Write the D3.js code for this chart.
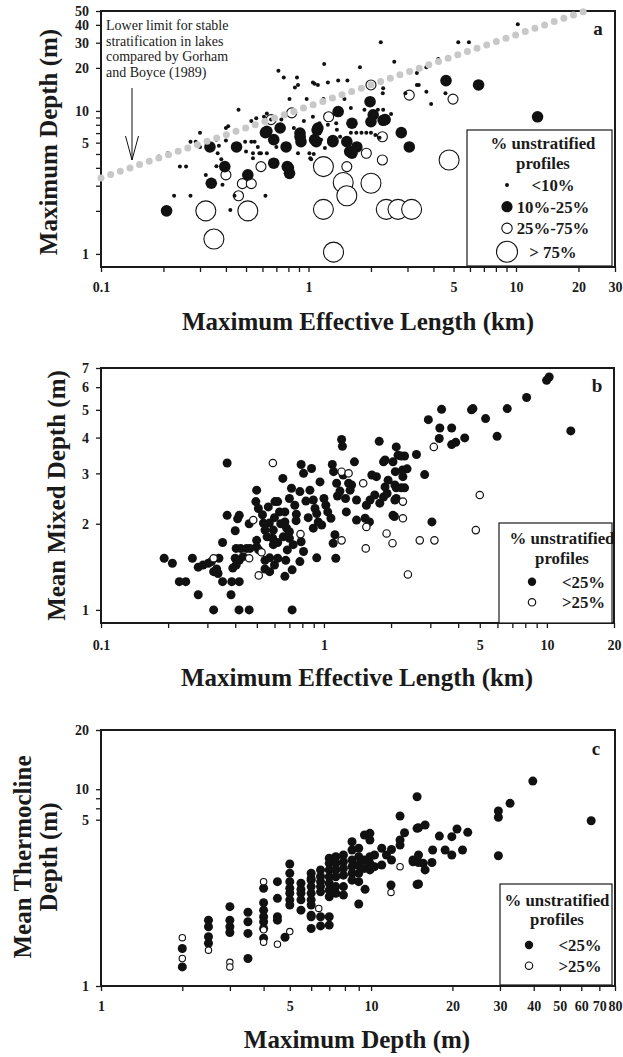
<!DOCTYPE html>
<html>
<head>
<meta charset="utf-8">
<script src="https://cdn.jsdelivr.net/npm/d3@7"></script>
<style>
  body { margin: 0; background: #fff; }
  svg { display: block; }
  text { font-family: "Liberation Serif", "Times New Roman", serif; fill: #1a1a1a; }
</style>
</head>
<body>
<div id="chart"></div>
<script>
// ---- panel a : max effective length (km) vs max depth (m), by % unstratified profiles
const aUnder10 = [[10.2,40.4],[2.23,30.2],[5.27,30.2],[5.93,30.2],[1.19,21.3],[0.716,19.1],[0.76,17.1],[0.88,17.1],
  [0.86,14.6],[0.89,15.2],[1.05,15.8],[1.11,15.2],[1.24,15.8],[1.39,16.3],[1.54,16.3],[1.77,20.2],[2.59,22.1],
  [4.22,23.1],[3.7,20.2],[3.33,18.4],[0.81,12.1],[0.98,12.1],[1.18,12.1],[1.49,12.1],[0.46,10.2],[0.63,9.6],
  [0.61,9.1],[0.56,8.9],[0.53,8.5],[0.66,8.7],[0.74,8.7],[0.76,9.2],[0.4,7.6],[0.41,7.8],[0.3,7.05],[0.27,6.1],
  [0.286,6.1],[0.4,6.2],[0.37,5.7],[0.3,5.6],[0.36,6.3],[0.5,5.2],[0.54,5.06],[0.58,5.06],[0.59,5.06],[0.365,5.06],
  [0.54,4.67],[0.495,6.1],[0.53,6.1],[0.55,6.1],[0.57,5.6],[0.63,5.06],[0.89,5.06],[1.01,5.06],[0.19,4.8],[0.21,5.06],
  [0.24,4.08],[0.257,4.08],[0.38,4.6],[0.32,3.57],[0.36,4.1],[0.385,3.05],[0.225,2.55],[0.27,2.55],[0.42,2.03],
  [0.62,2.55],[0.44,2.55],[1.02,4.67],[1.06,5.0],[2.28,13.3],[3.33,15.2],[3.4,15.2],[3.7,13.6],[3.9,11.2],[4.57,13.3],
  [2.93,13.3],[2.16,10.2],[2.29,10.2],[1.86,10.2],[1.35,9.6],[2.29,14.4],[1.05,9.1],[1.13,8.2],[1.24,8.0],[1.36,8.2],
  [1.37,7.4],[1.42,6.6],[1.9,7.05],[2.0,7.05],[1.03,4.6],[1.07,15.5],[1.6,7.05],[1.7,7.05],[1.8,7.05],[2.1,6.8],
  [2.2,6.5],[1.15,6.3],[1.2,5.5],[0.95,6.6],[0.7,5.6],[0.68,6.6],[0.85,7.6],[0.95,8.5],[2.5,9.5],[1.6,10.5]];
const a10to25 = [[0.207,2.0],[0.335,5.6],[0.45,5.6],[0.395,4.08],[0.34,3.12],[0.51,3.57],[0.62,7.05],[0.73,7.6],
  [0.68,6.3],[0.78,5.6],[0.68,4.31],[0.79,4.08],[0.81,3.66],[0.91,7.0],[0.92,6.1],[1.1,7.35],[1.09,6.1],[1.07,6.3],
  [1.31,6.1],[1.53,6.1],[1.58,5.2],[1.71,5.6],[1.62,5.06],[1.11,7.6],[1.39,9.9],[1.62,8.2],[1.98,11.6],[2.05,9.4],
  [2.29,8.6],[2.0,8.4],[2.34,8.7],[2.8,7.05],[3.06,5.6],[4.6,16.3],[6.6,15.2],[12.7,9.1],[0.63,7.2],[0.8,4.0],
  [0.91,6.6],[1.31,6.2]];
const a25to75 = [[0.4,3.57],[0.48,3.1],[0.53,3.1],[0.46,2.55],[0.59,4.08],[0.66,8.7],[0.83,9.7],[1.25,9.1],
  [3.06,12.9],[4.97,12.1],[2.27,6.6],[1.9,5.06],[2.27,4.54],[1.53,4.08],[2.0,15.2]];
const aOver75 = [[0.32,2.0],[0.51,2.0],[0.35,1.27],[1.18,4.08],[1.47,3.16],[1.53,2.55],[2.0,3.12],[1.18,2.05],
  [2.37,2.05],[2.7,2.05],[3.14,2.05],[1.32,1.03],[4.76,4.54]];
const aLimitLine = [[0.1,3.4],[21.5,50]];   // Gorham & Boyce (1989) lower limit
const aLegend = ["<10%", "10%-25%", "25%-75%", "> 75%"];

// ---- panel b : max effective length (km) vs mean mixed depth (m)
const bUnder25 = [[0.32,1.0],[0.416,1.0],[0.462,1.0],[0.72,1.0],[0.273,1.13],[0.383,1.13],[0.2245,1.255],[0.24,1.255],
  [0.351,1.255],[0.386,1.255],[0.417,1.255],[0.668,1.31],[0.72,1.38],[0.192,1.515],[0.209,1.455],[0.257,1.515],
  [0.273,1.41],[0.287,1.435],[0.303,1.455],[0.313,1.475],[0.338,1.515],[0.32,1.36],[0.335,1.34],[0.33,1.39],
  [0.351,1.72],[0.368,2.14],[0.417,2.14],[0.41,2.08],[0.368,3.26],[0.4,1.89],[0.404,1.64],[0.423,1.64],[0.45,1.64],
  [0.466,1.64],[0.4,1.515],[0.417,1.49],[0.434,1.535],[0.39,1.4],[0.404,1.435],[0.462,2.0],[0.499,2.62],[0.495,2.39],
  [0.508,2.26],[0.499,1.75],[0.499,1.66],[0.51,1.62],[0.535,2.01],[0.544,1.9],[0.569,2.01],[0.556,1.8],[0.593,1.9],
  [0.589,1.78],[0.593,1.69],[0.544,1.49],[0.571,1.52],[0.544,1.39],[0.571,1.36],[0.62,1.515],[0.6,1.435],[0.563,2.29],
  [0.603,2.39],[0.62,2.39],[0.632,2.2],[0.668,2.2],[0.654,2.88],[0.668,2.03],[0.68,1.93],[0.657,1.8],[0.7,1.875],
  [0.7,1.78],[0.728,1.69],[0.685,1.62],[0.674,1.49],[0.715,2.66],[0.74,2.32],[0.752,2.16],[0.78,2.59],[0.79,1.73],
  [0.81,1.6],[0.78,1.475],[0.79,3.22],[0.81,3.0],[0.88,3.12],[0.865,2.62],[0.896,2.42],[0.912,2.26],[0.928,2.17],
  [0.96,2.8],[0.943,2.03],[0.896,1.93],[0.977,1.98],[0.928,1.52],[1.0,2.45],[1.02,2.32],[1.04,2.2],[1.075,2.09],
  [1.09,3.22],[1.105,3.04],[1.14,2.77],[1.22,2.96],[1.2,3.94],[1.21,3.73],[1.12,1.83],[1.1,1.71],[1.13,1.515],
  [1.29,2.77],[1.33,2.73],[1.31,2.62],[1.26,2.2],[1.4,2.42],[1.37,3.29],[1.4,2.06],[1.53,2.09],[1.6,2.03],[1.55,2.32],
  [1.61,2.42],[1.69,2.52],[1.78,2.36],[1.85,2.48],[1.92,2.55],[1.88,2.69],[1.94,2.84],[1.72,2.92],[1.64,2.96],
  [1.77,3.88],[1.85,3.29],[1.88,3.34],[2.04,3.29],[2.04,2.14],[2.11,3.71],[2.15,3.47],[2.09,3.04],[2.08,2.73],
  [2.11,2.45],[2.22,3.45],[2.3,3.45],[2.25,3.08],[2.36,3.11],[2.26,2.92],[2.6,3.49],[2.83,2.97],[2.11,2.67],[2.22,2.67],
  [2.3,2.67],[2.08,2.42],[2.07,2.12],[3.05,2.03],[2.94,4.62],[3.37,5.02],[3.31,4.32],[3.74,4.32],[3.29,3.97],
  [3.74,3.78],[3.9,3.85],[4.28,3.99],[4.59,5.0],[4.66,5.05],[5.31,4.66],[5.98,4.04],[6.64,5.05],[8.11,5.52],
  [9.97,6.34],[10.24,6.51],[12.8,4.22],[0.6,2.1],[0.64,2.0],[0.75,2.05],[0.83,2.4],[0.85,2.1],[0.62,1.72],[0.53,2.15],
  [0.7,2.45],[1.15,2.5],[1.18,2.6],[1.25,2.45]];
const bOver25 = [[0.32,1.515],[0.462,1.515],[0.482,2.06],[0.525,1.59],[0.51,1.32],[0.785,1.84],[1.2,3.04],[1.29,3.0],
  [1.2,1.75],[1.5,2.77],[1.55,1.95],[1.54,1.64],[1.91,1.85],[2.03,1.71],[2.26,2.39],[2.26,2.09],[2.69,1.75],
  [3.13,1.75],[2.38,1.33],[4.8,1.9],[5.0,2.52],[3.11,3.71],[0.59,3.26]];

// ---- panel c : max depth (m) vs mean thermocline depth (m)
const cUnder25 = [[2,1.55],[2,1.25],[2.5,2.16],[2.5,2.0],[2.5,1.78],[2.5,1.65],[3,2.53],[3,2.16],[3,2.0],[3,1.87],
  [3.5,2.37],[3.5,2.12],[3.5,1.85],[3.5,1.38],[4,3.14],[4,2.65],[4,2.43],[4,2.25],[4,2.12],[4,1.96],[4,1.75],
  [4.5,3.39],[4.5,2.79],[4.5,2.25],[4.5,2.16],[4.8,1.77],[5,4.17],[5,3.74],[5,3.39],[5,3.14],[5,2.96],[5,2.74],[5,2.58],
  [5.5,3.33],[5.5,2.96],[5.5,2.74],[5.5,2.43],[5.5,3.1],[6,3.74],[6,3.45],[6,3.2],[6,2.96],[6,2.74],[6,2.58],[6,2.25],
  [6,1.96],[6,3.52],[6,2.29],[6.5,3.89],[6.5,3.39],[6.5,3.01],[6.5,2.25],[6.5,2.02],[6.5,3.6],[6.5,3.2],[7,4.46],
  [7,4.2],[7,3.89],[7,3.59],[7,3.33],[7,3.07],[7,2.84],[7,2.25],[7,2.04],[7.4,4.54],[7.4,4.2],[7.4,3.89],[7.4,3.59],
  [7.4,3.2],[7.4,2.96],[7.9,4.63],[7.9,4.28],[7.9,3.96],[7.9,3.66],[7.9,3.2],[7.9,2.9],[8.5,5.41],[8.5,4.91],
  [8.5,4.37],[8.5,4.04],[8.5,3.74],[8.5,3.45],[9,5.01],[9,4.54],[9,4.12],[9,3.74],[9,3.39],[9,2.61],[9.45,5.85],
  [9.45,4.37],[9.45,3.96],[9.5,3.1],[9.9,5.97],[9.9,5.52],[9.9,4.54],[9.9,4.2],[9.9,3.89],[10.3,4.63],[10.3,4.04],
  [10.95,5.01],[10.95,4.12],[11.4,4.63],[11.9,4.94],[11.9,4.37],[11.85,3.26],[12.8,7.31],[12.8,5.52],[12.8,5.2],
  [13.3,6.01],[14.8,9.16],[14.8,6.33],[14.3,4.37],[14.8,3.28],[14.98,6.37],[15.85,6.58],[17.9,5.78],[19.9,5.74],
  [20.8,6.28],[22.8,6.04],[16.9,4.91],[18.8,4.91],[19.9,4.63],[21.8,4.91],[14.98,4.63],[14.3,4.28],[14.98,4.24],
  [15.6,4.2],[15.85,3.89],[16.8,4.24],[14.98,3.3],[29.6,7.75],[29.6,7.2],[32.7,8.48],[29.6,4.59],[39.7,11.0],[65.3,6.92]];
const cOver25 = [[2,1.76],[2,1.38],[2.5,1.52],[3,1.32],[3,1.25],[4,3.39],[4,1.93],[4,1.67],[4.5,1.63],[5,1.89],
  [6.4,2.48],[11.85,2.99],[12.8,4.04]];
const bcLegend = ["<25%", ">25%"];

// ---- tick values and labels (label text listed beside the tick it sits on, as in the original figure)
const xTicksA = [0.1,0.2,0.3,0.4,0.5,0.6,0.7,0.8,0.9,1,2,3,4,5,6,7,8,9,10,20,30];
const xLabelsA = [0.1,1,5,10,20,30];
const xLabelTextA = ["0.1","1","5","10","20","30"];
const yTicksA = [1,2,3,4,5,6,7,8,9,10,20,30,40,50];
const yLabelsA = [1,6,10,20,30,40,50];
const yLabelTextA = ["1","5","10","20","30","40","50"];
const xTicksB = [0.1,0.2,0.3,0.4,0.5,0.6,0.7,0.8,0.9,1,2,3,4,5,6,7,8,9,10,20];
const xLabelsB = [0.1,1,5,10,20];
const xLabelTextB = ["0.1","1","5","10","20"];
const yTicksB = [1,2,3,4,5,6,7];
const yLabelsB = [1,2,3,4,5,6,7];
const yLabelTextB = ["1","2","3","4","5","6","7"];
const xTicksC = [1,2,3,4,5,6,7,8,9,10,20,30,40,50,60,70,80];
const xLabelsC = [1,5,10,20,30,40,50,60,70,80];
const xLabelTextC = ["1","5","10","20","30","40","50","60","70","80"];
const yTicksC = [1,7,8,9,10,20];
const yLabelsC = [1,7,10,20];
const yLabelTextC = ["1","5","10","20"];

const svg = d3.select("#chart").append("svg").attr("width", 623).attr("height", 1057);

function fmt(vals, txt) {
  return d => { const i = vals.indexOf(d); return i < 0 ? "" : txt[i]; };
}

function panel(o) {
  const x = d3.scaleLog().domain(o.xDom).range([o.left, o.right]);
  const y = d3.scaleLog().domain(o.yDom).range([o.bottom, o.top]);
  const g = svg.append("g");

  const xa = g.append("g").attr("transform", `translate(0,${o.bottom})`)
    .call(d3.axisBottom(x).tickValues(o.xTicks).tickSizeOuter(0).tickSize(5).tickFormat(o.xFmt));
  xa.select(".domain").remove();
  xa.selectAll("line").attr("stroke", "#1a1a1a").attr("stroke-width", 1.3);
  xa.selectAll("text").attr("y", o.xLabelOff).attr("dy", 0)
    .style("font-size", "14px").style("font-weight", "bold").attr("font-family", null);

  const ya = g.append("g").attr("transform", `translate(${o.left},0)`)
    .call(d3.axisLeft(y).tickValues(o.yTicks).tickSizeOuter(0).tickSize(5).tickFormat(o.yFmt));
  ya.select(".domain").remove();
  ya.selectAll("line").attr("stroke", "#1a1a1a").attr("stroke-width", 1.3);
  ya.selectAll("text").attr("x", -12).attr("dy", "0.34em")
    .style("font-size", "14px").style("font-weight", "bold").attr("font-family", null);

  g.append("rect").attr("x", o.left).attr("y", o.top)
    .attr("width", o.right - o.left).attr("height", o.bottom - o.top)
    .attr("fill", "none").attr("stroke", "#1a1a1a").attr("stroke-width", 2);

  return { g, x, y };
}

function dots(p, data, r, filled, sw) {
  p.g.append("g").selectAll("circle").data(data).join("circle")
    .attr("cx", d => p.x(d[0])).attr("cy", d => p.y(d[1])).attr("r", r)
    .attr("fill", filled ? "#111" : "#fff")
    .attr("stroke", "#111").attr("stroke-width", filled ? 0 : sw);
}

function title(x, y, txt, rot, size) {
  svg.append("text").attr("transform", `translate(${x},${y}) rotate(${rot})`)
    .attr("text-anchor", "middle").style("font-size", size + "px").style("font-weight", "bold").text(txt);
}

// ---------- panel a
const pa = panel({ xDom: [0.1, 30], yDom: [0.81, 50], left: 101, right: 615, top: 11, bottom: 267,
  xTicks: xTicksA, xFmt: fmt(xLabelsA, xLabelTextA), yTicks: yTicksA, yFmt: fmt(yLabelsA, yLabelTextA), xLabelOff: 25 });
dots(pa, aOver75, 10, false, 1.1);
dots(pa, a25to75, 5, false, 1.1);
dots(pa, a10to25, 5.8, true);
dots(pa, aUnder10, 2, true);
pa.g.append("path").datum(aLimitLine)
  .attr("d", d3.line().x(d => pa.x(d[0])).y(d => pa.y(d[1])))
  .attr("stroke", "#c8c8c8").attr("stroke-width", 7).attr("stroke-linecap", "round")
  .attr("stroke-dasharray", "0,10.2").attr("fill", "none");

const note = ["Lower limit for stable", "stratification in lakes", "compared by Gorham", "and Boyce (1989)"];
pa.g.append("text").attr("x", 106).attr("y", 30).style("font-size", "14px").attr("fill", "#333")
  .selectAll("tspan").data(note).join("tspan").attr("x", 106).attr("dy", (d, i) => i ? 15.6 : 0).text(d => d);
pa.g.append("path").attr("d", "M132,88V160M125.5,136L132,160L138.5,136")
  .attr("fill", "none").attr("stroke", "#111").attr("stroke-width", 1);
pa.g.append("text").attr("x", 598).attr("y", 35).attr("text-anchor", "middle")
  .style("font-size", "19px").style("font-weight", "bold").text("a");

// legend a
const lgA = pa.g.append("g");
lgA.append("rect").attr("x", 467).attr("y", 130).attr("width", 145).attr("height", 136)
  .attr("fill", "#fff").attr("stroke", "#1a1a1a").attr("stroke-width", 1.2);
lgA.append("text").attr("x", 543).attr("y", 149).attr("text-anchor", "middle")
  .style("font-size", "16.8px").style("font-weight", "bold").text("% unstratified");
lgA.append("text").attr("x", 543).attr("y", 169).attr("text-anchor", "middle")
  .style("font-size", "16.8px").style("font-weight", "bold").text("profiles");
const lgAr = [2, 5.6, 5.2, 10.5], lgAy = [185, 206.7, 228.3, 251.7];
aLegend.forEach((t, i) => {
  lgA.append("circle").attr("cx", 507).attr("cy", lgAy[i]).attr("r", lgAr[i])
    .attr("fill", i < 2 ? "#111" : "#fff").attr("stroke", "#111").attr("stroke-width", i < 2 ? 0 : 1.1);
  lgA.append("text").attr("x", 553).attr("y", lgAy[i] + 6).attr("text-anchor", "middle")
    .style("font-size", "16.8px").style("font-weight", "bold").text(t);
});
title(358, 330, "Maximum Effective Length (km)", 0, 25);
title(57, 142, "Maximum Depth (m)", -90, 25);

// ---------- panel b
const pb = panel({ xDom: [0.1, 20], yDom: [0.9, 7], left: 101, right: 614, top: 368, bottom: 623,
  xTicks: xTicksB, xFmt: fmt(xLabelsB, xLabelTextB), yTicks: yTicksB, yFmt: fmt(yLabelsB, yLabelTextB), xLabelOff: 27 });
dots(pb, bUnder25, 4.5, true);
dots(pb, bOver25, 3.7, false, 1.2);
pb.g.append("text").attr("x", 597).attr("y", 391.5).attr("text-anchor", "middle")
  .style("font-size", "19px").style("font-weight", "bold").text("b");

function legendBC(p, bx, by, bw, bh, cx, tx, ys) {
  const lg = p.g.append("g");
  lg.append("rect").attr("x", bx).attr("y", by).attr("width", bw).attr("height", bh)
    .attr("fill", "#fff").attr("stroke", "#1a1a1a").attr("stroke-width", 1.2);
  lg.append("text").attr("x", cx).attr("y", ys[0]).attr("text-anchor", "middle")
    .style("font-size", "16.8px").style("font-weight", "bold").text("% unstratified");
  lg.append("text").attr("x", cx).attr("y", ys[1]).attr("text-anchor", "middle")
    .style("font-size", "16.8px").style("font-weight", "bold").text("profiles");
  bcLegend.forEach((t, i) => {
    lg.append("circle").attr("cx", tx[0]).attr("cy", ys[2 + i]).attr("r", i ? 3.7 : 4.2)
      .attr("fill", i ? "#fff" : "#111").attr("stroke", "#111").attr("stroke-width", i ? 1.2 : 0);
    lg.append("text").attr("x", tx[1]).attr("y", ys[2 + i] + 6).attr("text-anchor", "middle")
      .style("font-size", "16.8px").style("font-weight", "bold").text(t);
  });
}
legendBC(pb, 499, 523, 113, 100, 562, [532, 583.5], [544, 563.5, 581.7, 602.3]);
title(357, 686, "Maximum Effective Length (km)", 0, 25);
title(65, 495.5, "Mean Mixed Depth (m)", -90, 25);

// ---------- panel c
const pc = panel({ xDom: [1, 80], yDom: [1, 20], left: 101, right: 615, top: 730, bottom: 986,
  xTicks: xTicksC, xFmt: fmt(xLabelsC, xLabelTextC), yTicks: yTicksC, yFmt: fmt(yLabelsC, yLabelTextC), xLabelOff: 25 });
dots(pc, cUnder25, 4.5, true);
dots(pc, cOver25, 3.2, false, 1.1);
pc.g.append("text").attr("x", 596).attr("y", 755).attr("text-anchor", "middle")
  .style("font-size", "19px").style("font-weight", "bold").text("c");
legendBC(pc, 500, 884, 112, 101, 557, [529, 580], [906, 925, 945, 965.7]);
title(357, 1048, "Maximum Depth (m)", 0, 25);
title(31, 857, "Mean Thermocline", -90, 25);
title(57, 857, "Depth (m)", -90, 25);
</script>
</body>
</html>
